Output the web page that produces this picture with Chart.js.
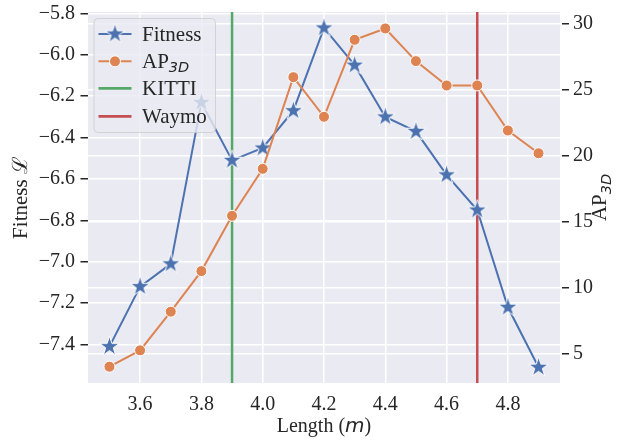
<!DOCTYPE html>
<html><head><meta charset="utf-8">
<script src="https://cdn.jsdelivr.net/npm/chart.js@4.4.1/dist/chart.umd.min.js"></script>
<style>html,body{margin:0;padding:0;background:#fff;} canvas{display:block;}</style>
</head><body>
<canvas id="c" width="621" height="444"></canvas>
<script>
// ---- data ----
const lengths = [3.5, 3.6, 3.7, 3.8, 3.9, 4.0, 4.1, 4.2, 4.3, 4.4, 4.5, 4.6, 4.7, 4.8, 4.9];
const fitness = [-7.41, -7.12, -7.01, -6.23, -6.51, -6.45, -6.27, -5.87, -6.05, -6.30, -6.37, -6.58, -6.75, -7.22, -7.51];
const ap3d = [3.99, 5.23, 8.17, 11.25, 15.45, 19.02, 25.98, 22.97, 28.82, 29.68, 27.2, 25.35, 25.35, 21.93, 20.2];
const xTicks = [3.6, 3.8, 4.0, 4.2, 4.4, 4.6, 4.8];
const fitnessTicks = [-7.4, -7.2, -7.0, -6.8, -6.6, -6.4, -6.2, -6.0, -5.8];
const apTicks = [5, 10, 15, 20, 25, 30];
const kittiLength = 3.9;
const waymoLength = 4.7;
const xRange = [3.43, 4.97];
const fitnessRange = [-7.586, -5.793];
const apRange = [2.75, 30.93];

// ---- styles ----
const BLUE = '#4C72B0', ORANGE = '#DD8452', GREEN = '#55A868', RED = '#C44E52';
const TEXT = '#262626', BG = '#EAEAF2';
const SERIF = "'Liberation Serif', 'Times New Roman', 'DejaVu Serif', serif";
Chart.defaults.font.family = 'Liberation Serif';
Chart.defaults.color = TEXT;

function makeStar(R) {
  const pad = 2, s = Math.ceil(2 * R + 2 * pad);
  const c = document.createElement('canvas'); c.width = s; c.height = s;
  const g = c.getContext('2d');
  const cx = s / 2, cy = s / 2, r = R * 0.381966;
  g.beginPath();
  for (let i = 0; i < 10; i++) {
    const rad = i % 2 === 0 ? R : r;
    const a = -Math.PI / 2 + i * Math.PI / 5;
    const px = cx + rad * Math.cos(a), py = cy + rad * Math.sin(a);
    if (i) g.lineTo(px, py); else g.moveTo(px, py);
  }
  g.closePath();
  g.fillStyle = BLUE; g.fill();
  g.strokeStyle = '#fff'; g.lineWidth = 1; g.lineJoin = 'miter'; g.stroke();
  return c;
}
const starImg = makeStar(10.5);

const decor = {
  id: 'decor',
  beforeDraw(chart) {
    const { ctx, chartArea: a } = chart;
    ctx.save();
    ctx.fillStyle = '#fff';
    ctx.fillRect(0, 0, chart.width, chart.height);
    ctx.fillStyle = BG;
    ctx.fillRect(a.left, a.top, a.right - a.left, a.bottom - a.top);
    ctx.restore();
  },
  afterDraw(chart) {
    const { ctx, chartArea: a } = chart;
    ctx.save();
    ctx.fillStyle = TEXT;
    ctx.textBaseline = 'alphabetic';
    // x title: Length (m)
    const f1 = '20px ' + SERIF, fi = "italic 20px 'DejaVu Sans', sans-serif";
    ctx.font = f1; const w1 = ctx.measureText('Length (').width; const w3 = ctx.measureText(')').width;
    ctx.font = fi; const w2 = ctx.measureText('m').width;
    let x0 = (a.left + a.right) / 2 - (w1 + w2 + w3) / 2;
    const by = 432;
    ctx.textAlign = 'left';
    ctx.font = f1; ctx.fillText('Length (', x0, by);
    ctx.font = fi; ctx.fillText('m', x0 + w1, by);
    ctx.font = f1; ctx.fillText(')', x0 + w1 + w2, by);

    const cy = (a.top + a.bottom) / 2;
    // left title
    ctx.save();
    ctx.translate(27, cy); ctx.rotate(-Math.PI / 2);
    ctx.font = '21px ' + SERIF; ctx.textAlign = 'center';
    ctx.fillText('Fitness \u2112', 0, 0);
    ctx.restore();

    // right title AP_3D
    ctx.save();
    ctx.translate(606, cy); ctx.rotate(-Math.PI / 2);
    const fa = '21px ' + SERIF, fs = "italic 14.5px 'DejaVu Sans', sans-serif";
    ctx.font = fa; const wa = ctx.measureText('AP').width;
    ctx.font = fs; const ws = ctx.measureText('3D').width;
    ctx.textAlign = 'left';
    const sx = -(wa + ws) / 2;
    ctx.font = fa; ctx.fillText('AP', sx, 0);
    ctx.font = fs; ctx.fillText('3D', sx + wa, 5);
    ctx.restore();

    // legend
    const lx = a.left + 6, ly = a.top + 6.5, lw = 121.5, lh = 114, rr = 4;
    ctx.beginPath();
    ctx.moveTo(lx + rr, ly);
    ctx.arcTo(lx + lw, ly, lx + lw, ly + lh, rr);
    ctx.arcTo(lx + lw, ly + lh, lx, ly + lh, rr);
    ctx.arcTo(lx, ly + lh, lx, ly, rr);
    ctx.arcTo(lx, ly, lx + lw, ly, rr);
    ctx.closePath();
    ctx.fillStyle = 'rgba(234,234,242,0.8)'; ctx.fill();
    ctx.strokeStyle = 'rgba(204,204,204,0.8)'; ctx.lineWidth = 1; ctx.stroke();

    const rows = [ly + 15.5, ly + 42.8, ly + 69.8, ly + 97.8];
    const hx1 = lx + 4.5, hx2 = lx + 37.5, hm = (hx1 + hx2) / 2, tx = lx + 48;
    const items = [
      { color: BLUE, w: 2, marker: 'star', label: 'Fitness' },
      { color: ORANGE, w: 2, marker: 'circle', label: 'AP' },
      { color: GREEN, w: 2.7, label: 'KITTI' },
      { color: RED, w: 2.7, label: 'Waymo' }
    ];
    items.forEach((it, i) => {
      const y = rows[i];
      ctx.beginPath(); ctx.moveTo(hx1, y); ctx.lineTo(hx2, y);
      ctx.strokeStyle = it.color; ctx.lineWidth = it.w; ctx.stroke();
      if (it.marker === 'star') ctx.drawImage(starImg, hm - starImg.width / 2, y - starImg.height / 2);
      if (it.marker === 'circle') {
        ctx.beginPath(); ctx.arc(hm, y, 5.5, 0, Math.PI * 2);
        ctx.fillStyle = ORANGE; ctx.fill(); ctx.strokeStyle = '#fff'; ctx.lineWidth = 1; ctx.stroke();
      }
      ctx.fillStyle = TEXT; ctx.textAlign = 'left'; ctx.textBaseline = 'alphabetic';
      ctx.font = '21px ' + SERIF;
      const base = y + 7;
      ctx.fillText(it.label, tx, base);
      if (it.label === 'AP') {
        const wAP = ctx.measureText('AP').width;
        ctx.font = "italic 14.5px 'DejaVu Sans', sans-serif";
        ctx.fillText('3D', tx + wAP, base + 4);
      }
    });
    ctx.restore();
  }
};

const tickFont = { family: 'Liberation Serif', size: 20 };
const pts = (ys) => lengths.map((x, i) => ({ x, y: ys[i] }));

new Chart(document.getElementById('c'), {
  type: 'line',
  data: {
    datasets: [
      { label: 'AP3D', data: pts(ap3d), yAxisID: 'y1', borderColor: ORANGE, borderWidth: 2,
        pointRadius: 5.5, pointBackgroundColor: ORANGE, pointBorderColor: '#fff', pointBorderWidth: 1, order: 0 },
      { label: 'Fitness', data: pts(fitness), yAxisID: 'y', borderColor: BLUE, borderWidth: 2,
        pointStyle: starImg, pointRadius: 10, order: 1 },
      { label: 'KITTI', data: [{ x: kittiLength, y: fitnessRange[0] - 1 }, { x: kittiLength, y: fitnessRange[1] + 1 }],
        yAxisID: 'y', borderColor: GREEN, borderWidth: 2.5, pointRadius: 0, order: 2 },
      { label: 'Waymo', data: [{ x: waymoLength, y: fitnessRange[0] - 1 }, { x: waymoLength, y: fitnessRange[1] + 1 }],
        yAxisID: 'y', borderColor: RED, borderWidth: 2.5, pointRadius: 0, order: 3 }
    ]
  },
  options: {
    responsive: false,
    animation: false,
    layout: { padding: { top: 8, left: 0, right: 0, bottom: 0 } },
    plugins: { legend: { display: false }, tooltip: { enabled: false } },
    elements: { line: { tension: 0 } },
    scales: {
      x: {
        type: 'linear', min: xRange[0], max: xRange[1],
        afterBuildTicks: s => { s.ticks = xTicks.map(v => ({ value: v })); },
        ticks: { font: tickFont, color: TEXT, padding: 10, callback: v => Number(v).toFixed(1), maxRotation: 0, autoSkip: false },
        grid: { color: '#fff', lineWidth: 1.5, drawTicks: false },
        border: { display: false },
        afterFit: s => { s.height = 61; s.paddingLeft = 0; s.paddingRight = 0; }
      },
      y: {
        type: 'linear', position: 'left', min: fitnessRange[0], max: fitnessRange[1],
        afterBuildTicks: s => { s.ticks = fitnessTicks.map(v => ({ value: v })); },
        ticks: { font: tickFont, color: TEXT, padding: 3, autoSkip: false,
          callback: v => (v < 0 ? '\u2212' : '') + Math.abs(v).toFixed(1) },
        grid: { color: '#fff', lineWidth: 1.5, tickColor: TEXT, tickLength: 10, tickWidth: 1.3, tickBorderDash: [0, 2.5, 7.5, 100] },
        border: { display: false },
        afterFit: s => { s.width = 88; s.paddingTop = 0; s.paddingBottom = 0; }
      },
      y1: {
        type: 'linear', position: 'right', min: apRange[0], max: apRange[1],
        afterBuildTicks: s => { s.ticks = apTicks.map(v => ({ value: v })); },
        ticks: { font: tickFont, color: TEXT, padding: 4, autoSkip: false, callback: v => String(v) },
        grid: { color: '#fff', lineWidth: 1.5, tickColor: TEXT, tickLength: 9, tickWidth: 1.3, tickBorderDash: [0, 2, 7, 100] },
        border: { display: false },
        afterFit: s => { s.width = 61; s.paddingTop = 0; s.paddingBottom = 0; }
      }
    }
  },
  plugins: [decor]
});
</script>
</body></html>
